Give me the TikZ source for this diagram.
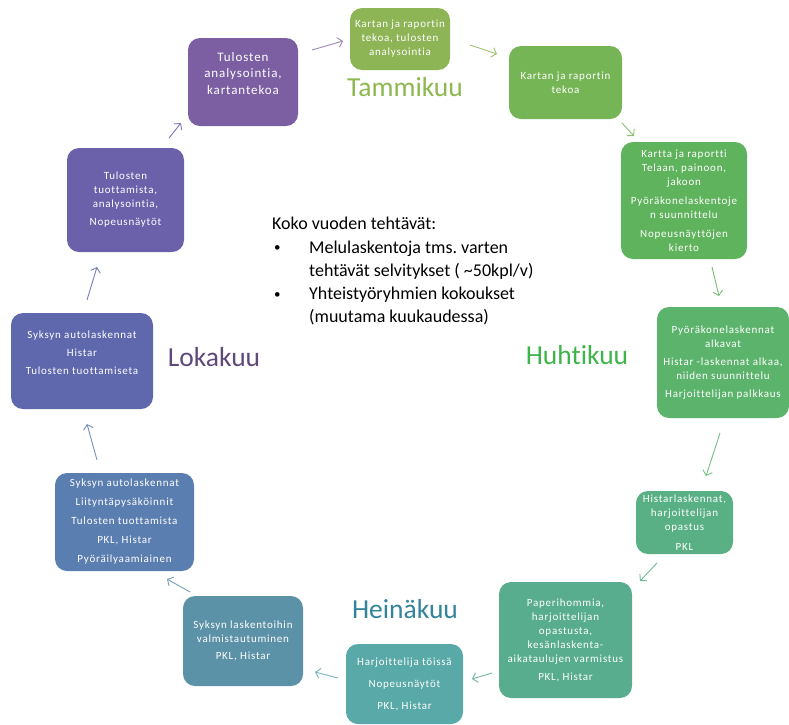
\documentclass[tikz,border=0pt]{standalone}
\usepackage{fontspec}
\setmainfont{Carlito}[Ligatures={NoCommon}]
\usetikzlibrary{arrows.meta}
\definecolor{c1}{HTML}{8DB556}
\definecolor{c2}{HTML}{76B555}
\definecolor{c3}{HTML}{5FB35C}
\definecolor{c4}{HTML}{5CB46C}
\definecolor{c5}{HTML}{58B084}
\definecolor{c6}{HTML}{58AD8F}
\definecolor{c7}{HTML}{58A9A8}
\definecolor{c8}{HTML}{5B92A8}
\definecolor{c9}{HTML}{5B7EB0}
\definecolor{c10}{HTML}{5F68AC}
\definecolor{c11}{HTML}{6B60AA}
\definecolor{c12}{HTML}{7B5FA2}
\definecolor{ltam}{HTML}{8DB84E}
\definecolor{lhuh}{HTML}{3DB54A}
\definecolor{lhei}{HTML}{31849B}
\definecolor{llok}{HTML}{5F497A}
\frenchspacing
\begin{document}
\begin{tikzpicture}[x=1pt,y=-1pt,
  box/.style={rounded corners=12pt, text=white, align=center, inner sep=1pt,
    font=\fontsize{11}{14}\selectfont\addfontfeatures{LetterSpace=7}},
  bigbox/.style={box, font=\fontsize{13}{16.5}\selectfont\addfontfeatures{LetterSpace=7}},
  month/.style={font=\fontsize{27.5}{30}\selectfont},
  arr/.style={-{Straight Barb[length=4.5pt,width=10pt]}, line width=0.9pt}]
\useasboundingbox (0,0) rectangle (789,724);
\fill[white] (0,0) rectangle (789,724);

% boxes
\node[box, fill=c1, minimum width=100pt, minimum height=62pt] (b1) at (400,39)
  {Kartan ja raportin\\tekoa, tulosten\\analysointia};
\node[box, fill=c2, minimum width=113pt, minimum height=73pt] (b2) at (565.5,82.5)
  {Kartan ja raportin\\tekoa};
\node[box, fill=c3, minimum width=126pt, minimum height=117pt] (b3) at (684,200.5)
  {Kartta ja raportti\\Telaan, painoon,\\jakoon\\[5pt]Pyöräkonelaskentoje\\n suunnittelu\\[5pt]Nopeusnäyttöjen\\kierto};
\node[box, fill=c4, minimum width=132pt, minimum height=111pt] (b4) at (723,362.5)
  {Pyöräkonelaskennat\\alkavat\\[4pt]Histar -laskennat alkaa,\\niiden suunnittelu\\[4pt]Harjoittelijan palkkaus};
\node[box, fill=c5, minimum width=97pt, minimum height=63pt] (b5) at (684.5,522.5)
  {Histarlaskennat,\\harjoittelijan\\opastus\\[6pt]PKL};
\node[box, fill=c6, minimum width=133pt, minimum height=116pt] (b6) at (565.5,640)
  {Paperihommia,\\harjoittelijan\\opastusta,\\kesänlaskenta-\\aikataulujen varmistus\\[4pt]PKL, Histar};
\node[box, fill=c7, minimum width=117pt, minimum height=80pt] (b7) at (404.5,684)
  {Harjoittelija töissä\\[8pt]Nopeusnäytöt\\[8pt]PKL, Histar};
\node[box, fill=c8, minimum width=120pt, minimum height=90pt] (b8) at (243,641)
  {Syksyn laskentoihin\\valmistautuminen\\[3pt]PKL, Histar};
\node[box, fill=c9, minimum width=139pt, minimum height=98pt] (b9) at (124.5,522)
  {Syksyn autolaskennat\\[5pt]Liityntäpysäköinnit\\[5pt]Tulosten tuottamista\\[5pt]PKL, Histar\\[5pt]Pyöräilyaamiainen};
\node[box, fill=c10, minimum width=142pt, minimum height=96pt] (b10) at (82,361)
  {Syksyn autolaskennat\\[4pt]Histar\\[4pt]Tulosten tuottamiseta\\[2pt]{}};
\node[box, fill=c11, minimum width=117pt, minimum height=104pt] (b11) at (125.5,200)
  {Tulosten\\tuottamista,\\analysointia,\\[4pt]Nopeusnäytöt};
\node[bigbox, fill=c12, minimum width=110pt, minimum height=88pt] (b12) at (243,82)
  {Tulosten\\analysointia,\\kartantekoa\\[1pt]{}};

% month labels
\node[month, text=ltam] (tam) at (405,87) {Tammikuu};
\node[month, text=lhuh] (huh) at (577,355) {Huhtikuu};
\node[month, text=lhei] (hei) at (405,609) {Heinäkuu};
\node[month, text=llok] (lok) at (214,357) {Lokakuu};

% central text
\node[anchor=north west, inner sep=0pt, align=left, font=\fontsize{18}{23.3}\selectfont] (koko) at (272,217)
  {Koko vuoden tehtävät:\\
   \makebox[37pt][l]{\hspace{2pt}\fontsize{13}{13}\selectfont\raisebox{1.5pt}{•}}Melulaskentoja tms. varten\\
   \hspace{37pt}tehtävät selvitykset ( {\char`~}50kpl/v)\\
   \makebox[37pt][l]{\hspace{2pt}\fontsize{13}{13}\selectfont\raisebox{1.5pt}{•}}Yhteistyöryhmien kokoukset\\
   \hspace{37pt}(muutama kuukaudessa)};

% arrow end points
\coordinate (a1s) at (312,50);  \coordinate (a1e) at (343,41);
\coordinate (a2s) at (470,45);  \coordinate (a2e) at (497,54);
\coordinate (a3s) at (622,123); \coordinate (a3e) at (634,136);
\coordinate (a4s) at (712,267); \coordinate (a4e) at (719,296);
\coordinate (a5s) at (720,433); \coordinate (a5e) at (706,476);
\coordinate (a6s) at (657,563); \coordinate (a6e) at (640,581);
\coordinate (a7s) at (492,673); \coordinate (a7e) at (472,679);
\coordinate (a8s) at (338,678); \coordinate (a8e) at (315,672);
\coordinate (a9s) at (190,592); \coordinate (a9e) at (167,579);
\coordinate (a10s) at (97,460); \coordinate (a10e) at (87,424);
\coordinate (a11s) at (87,300); \coordinate (a11e) at (97,267);
\coordinate (a12s) at (169,138); \coordinate (a12e) at (181,123);

\draw[arr, draw=c12!75] (a1s) -- (a1e);
\draw[arr, draw=c1!85] (a2s) -- (a2e);
\draw[arr, draw=c2!85] (a3s) -- (a3e);
\draw[arr, draw=c3!85] (a4s) -- (a4e);
\draw[arr, draw=c4!85] (a5s) -- (a5e);
\draw[arr, draw=c5!85] (a6s) -- (a6e);
\draw[arr, draw=c6!85] (a7s) -- (a7e);
\draw[arr, draw=c7!85] (a8s) -- (a8e);
\draw[arr, draw=c8!85] (a9s) -- (a9e);
\draw[arr, draw=c9!85] (a10s) -- (a10e);
\draw[arr, draw=c10!85] (a11s) -- (a11e);
\draw[arr, draw=c11!85] (a12s) -- (a12e);
\end{tikzpicture}
\end{document}
